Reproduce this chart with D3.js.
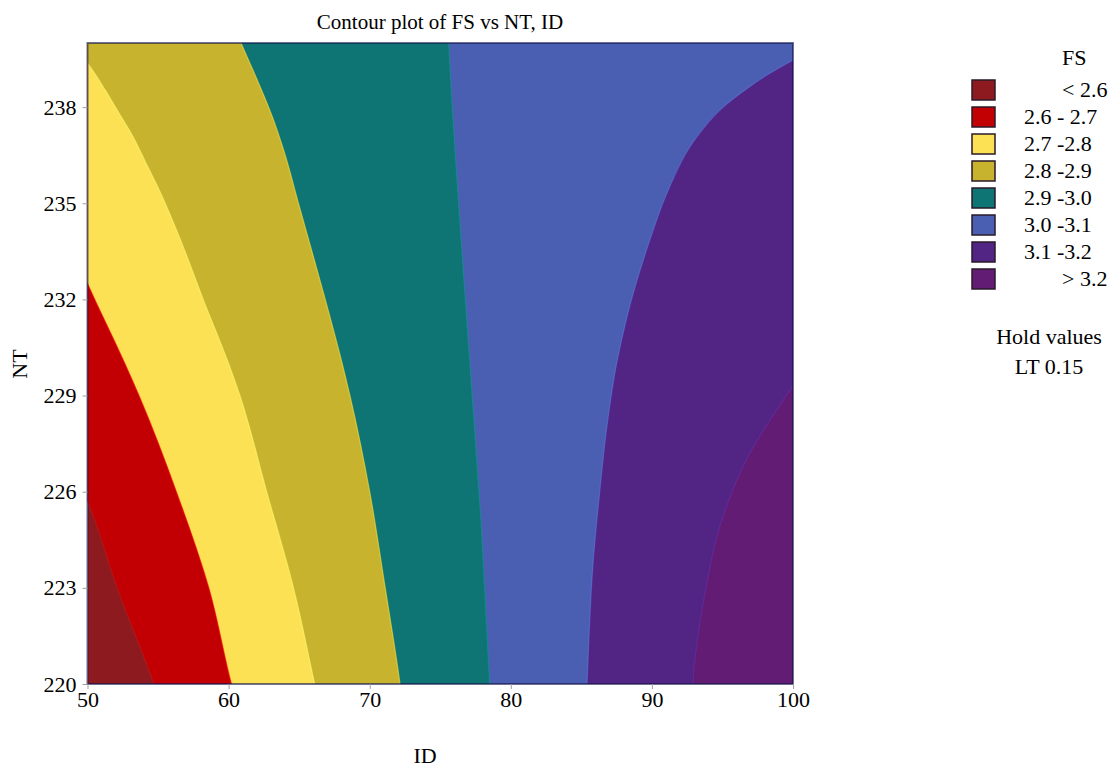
<!DOCTYPE html>
<html>
<head>
<meta charset="utf-8">
<script src="https://cdn.jsdelivr.net/npm/d3@7"></script>
<style>
  body { margin: 0; background: #fff; }
  text { font-family: "Liberation Serif", "Times New Roman", serif; fill: #000; }
</style>
</head>
<body>
<svg id="chart" width="1113" height="767"></svg>
<script>
// FS levels and band legend
const levels = [2.6, 2.7, 2.8, 2.9, 3.0, 3.1, 3.2]
const bandLabels = ["< 2.6", "2.6 - 2.7", "2.7 -2.8", "2.8 -2.9", "2.9 -3.0", "3.0 -3.1", "3.1 -3.2", "> 3.2"]
const bandColors = ["#8c1a1e", "#c20003", "#fde155", "#c8b32f", "#0f7574", "#4a5fb2", "#522584", "#621c74"]

const xTicks = [50, 60, 70, 80, 90, 100]
const yTicks = [220, 223, 226, 229, 232, 235, 238]

// contour lines, [ID, NT], bottom to top
// first and last points sit just outside the plot so the fill can close around them
const line26 = [[55.1, 219.5], [54.7, 220], [52.1, 223], [50, 225.7], [49.5, 226.2]]
const line27 = [[60.5, 219.5], [60.2, 220], [58.6, 223], [56.3, 226], [53.65, 229], [52.65, 230], [50, 232.5], [49.5, 233]]
const line28 = [[66.35, 219.5], [66.1, 220], [64.6, 223], [62.7, 226], [60.8, 229], [60.0, 230], [58.2, 232], [56.6, 233.85], [55.1, 235.4], [54.15, 236.25], [53.2, 237.1], [52.25, 237.8], [51.3, 238.5], [50, 239.37], [49.4, 239.7]]
const line29 = [[72.3, 219.5], [72.15, 220], [71.1, 223], [70.0, 226], [68.6, 229], [68.05, 230], [66.85, 232], [64.95, 235], [63.9, 236.66], [63.1, 237.7], [61.94, 238.94], [60.88, 240], [60.4, 240.5]]
const line30 = [[78.55, 219.5], [78.5, 220], [77.9, 225], [77.1, 230], [76.3, 235], [75.6, 240], [75.55, 240.5]]
const line31 = [[85.35, 219.5], [85.4, 220], [85.85, 223.9], [86.3, 226], [86.8, 228], [87.5, 230], [88.2, 231.4], [89.85, 233.85], [91.05, 235.3], [92.9, 236.9], [95.05, 238], [96.5, 238.5], [98.15, 239], [100, 239.47], [101, 239.7]]
const line32 = [[92.85, 219.5], [92.9, 220], [93.75, 222.8], [94.8, 224.9], [96.7, 227], [100, 229.3], [100.8, 229.8]]

const contourLines = [line26, line27, line28, line29, line30, line31, line32]

const serif = "'Liberation Serif', 'Times New Roman', serif"

const svg = d3.select("#chart")

const x = d3.scaleLinear().domain([50, 100]).range([87.5, 793])
const y = d3.scaleLinear().domain([220, 240]).range([684, 43])

const plotW = x(100) - x(50)
const plotH = y(220) - y(240)

svg.append("clipPath").attr("id", "plotclip")
  .append("rect")
  .attr("x", x(50)).attr("y", y(240))
  .attr("width", plotW).attr("height", plotH)

const plot = svg.append("g").attr("clip-path", "url(#plotclip)")

// lowest band fills the whole plot, each level then paints the area above it
plot.append("rect")
  .attr("x", x(50)).attr("y", y(240))
  .attr("width", plotW).attr("height", plotH)
  .attr("fill", bandColors[0])

const edge = d3.line()
  .x(d => x(d[0]))
  .y(d => y(d[1]))
  .curve(d3.curveMonotoneY)

function regionPath(pts) {
  const first = pts[0], last = pts[pts.length - 1]
  return edge(pts) +
    "L" + x(last[0]) + "," + y(242) +
    "L" + x(103) + "," + y(242) +
    "L" + x(103) + "," + y(218) +
    "L" + x(first[0]) + "," + y(218) + "Z"
}

contourLines.forEach(function(pts, i) {
  plot.append("path")
    .attr("d", regionPath(pts))
    .attr("fill", bandColors[i + 1])
})

// faint highlight along each contour edge
contourLines.forEach(function(pts, i) {
  plot.append("path")
    .attr("d", edge(pts))
    .attr("fill", "none")
    .attr("stroke", d3.color(bandColors[i]).brighter(0.7))
    .attr("stroke-opacity", 0.55)
    .attr("stroke-width", 1.2)
})

svg.append("rect")
  .attr("x", x(50)).attr("y", y(240))
  .attr("width", plotW).attr("height", plotH)
  .attr("fill", "none")
  .attr("stroke", "#10124a")
  .attr("stroke-opacity", 0.6)
  .attr("stroke-width", 2)

// axes
const gx = svg.append("g")
  .attr("transform", "translate(0," + y(220) + ")")
  .call(d3.axisBottom(x).tickValues(xTicks).tickSize(5).tickPadding(2))
const gy = svg.append("g")
  .attr("transform", "translate(" + x(50) + ",0)")
  .call(d3.axisLeft(y).tickValues(yTicks).tickSize(5).tickPadding(6))

;[gx, gy].forEach(function(g) {
  g.attr("font-family", null)
  g.select(".domain").remove()
  g.selectAll(".tick line").attr("stroke", "#a0a0a0")
  g.selectAll(".tick text")
    .style("font-family", serif)
    .style("font-size", "22px")
    .attr("fill", "#000")
})

svg.append("text")
  .attr("x", 440).attr("y", 29)
  .attr("text-anchor", "middle")
  .attr("font-size", 21)
  .text("Contour plot of FS vs NT, ID")

svg.append("text")
  .attr("transform", "translate(27,364) rotate(-90)")
  .attr("text-anchor", "middle")
  .attr("font-size", 22)
  .text("NT")

svg.append("text")
  .attr("x", 425).attr("y", 763)
  .attr("text-anchor", "middle")
  .attr("font-size", 22)
  .text("ID")

// legend
const legend = svg.append("g")

legend.append("text")
  .attr("x", 1062).attr("y", 65)
  .attr("font-size", 22)
  .text("FS")

const rows = legend.selectAll(".row")
  .data(bandLabels)
  .enter().append("g")
  .attr("class", "row")
  .attr("transform", (d, i) => "translate(0," + (80 + i * 27) + ")")

rows.append("rect")
  .attr("x", 972).attr("y", 0)
  .attr("width", 23).attr("height", 20)
  .attr("fill", (d, i) => bandColors[i])
  .attr("stroke", "#2a1a2a")
  .attr("stroke-width", 1.5)

rows.append("text")
  .attr("x", d => (d[0] === "<" || d[0] === ">") ? 1062 : 1024)
  .attr("y", 17)
  .attr("font-size", 22)
  .text(d => d)

legend.append("text")
  .attr("x", 1049).attr("y", 344)
  .attr("text-anchor", "middle")
  .attr("font-size", 22)
  .text("Hold values")

legend.append("text")
  .attr("x", 1049).attr("y", 374)
  .attr("text-anchor", "middle")
  .attr("font-size", 22)
  .text("LT 0.15")
</script>
</body>
</html>
